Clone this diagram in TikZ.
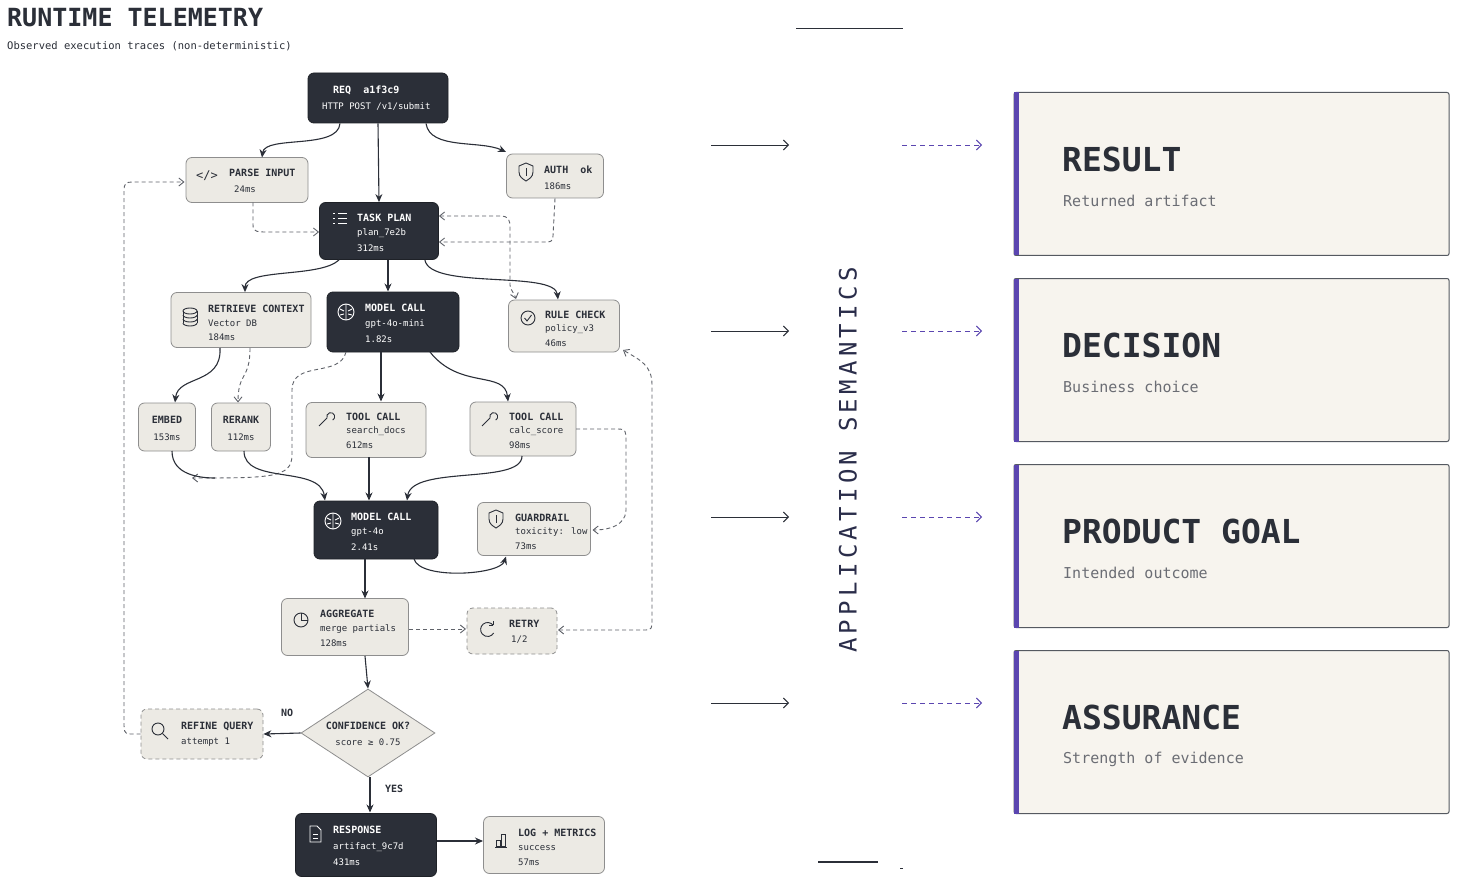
\documentclass[tikz,border=0pt]{standalone}
\usepackage{fontspec}
\setmainfont{DejaVu Sans Mono}
\newfontfamily\sfont{DejaVu Sans Mono}[LetterSpace=18]
\usetikzlibrary{shapes.geometric,arrows.meta}
\definecolor{ink}{HTML}{2B2F38}
\definecolor{lfill}{HTML}{ECEAE4}
\definecolor{lborder}{HTML}{8E8E8E}
\definecolor{card}{HTML}{F7F4EE}
\definecolor{purp}{HTML}{5B46B0}
\definecolor{navy}{HTML}{2A2D4A}
\begin{document}
\begin{tikzpicture}[x=1pt,y=-1pt,
  box/.style={rounded corners=6pt,inner sep=0pt},
  dbox/.style={box,fill=ink,draw=ink!70!black,line width=0.8pt},
  lbox/.style={box,fill=lfill,draw=lborder,line width=0.8pt},
  dashbox/.style={lbox,dashed,dash pattern=on 4pt off 3pt},
  t1/.style={anchor=west,inner sep=0pt,font=\fontsize{10}{10}\selectfont\bfseries},
  t2/.style={anchor=west,inner sep=0pt,font=\fontsize{9}{10}\selectfont},
  w/.style={text=white},
  k/.style={text=ink},
  ed/.style={draw=ink,line width=1.1pt,-{Stealth[length=8pt,width=7pt]}},
  dd/.style={draw=ink!75,line width=0.9pt,dash pattern=on 4pt off 3pt,-{Straight Barb[length=5pt,width=8pt]}},
  ic/.style={line width=0.9pt}
]
\useasboundingbox (0,0) rectangle (1458,885);
\fill[white] (0,0) rectangle (1458,885);

% header
\node[anchor=west,inner sep=0pt,text=ink,font=\fontsize{25}{26}\selectfont\bfseries] (title) at (7,18) {RUNTIME TELEMETRY};
\node[anchor=west,inner sep=0pt,text=ink,font=\fontsize{10.5}{12}\selectfont] (sub) at (7,46) {Observed execution traces (non-deterministic)};

% boxes
\node[dbox,minimum width=140pt,minimum height=50pt] (req) at (378,98) {};
\node[lbox,minimum width=122pt,minimum height=45pt] (parse) at (247,180) {};
\node[lbox,minimum width=97pt,minimum height=44pt] (auth) at (555,176) {};
\node[dbox,minimum width=119pt,minimum height=57pt] (task) at (379,231) {};
\node[lbox,minimum width=140pt,minimum height=55pt] (retr) at (241,320) {};
\node[dbox,minimum width=132pt,minimum height=60pt] (mini) at (393,322) {};
\node[lbox,minimum width=111pt,minimum height=52pt] (rule) at (564,326) {};
\node[lbox,minimum width=57pt,minimum height=48pt] (embed) at (167,427) {};
\node[lbox,minimum width=59pt,minimum height=48pt] (rerank) at (241,427) {};
\node[lbox,minimum width=120pt,minimum height=55pt] (tools) at (366,430) {};
\node[lbox,minimum width=106pt,minimum height=54pt] (toolc) at (523,429) {};
\node[dbox,minimum width=124pt,minimum height=58pt] (m4o) at (376,530) {};
\node[lbox,minimum width=113pt,minimum height=53pt] (guard) at (534,529) {};
\node[lbox,minimum width=127pt,minimum height=57pt] (agg) at (345,627) {};
\node[dashbox,minimum width=90pt,minimum height=46pt] (retry) at (512,631) {};
\node[diamond,fill=lfill,draw=lborder,line width=0.8pt,minimum width=134pt,minimum height=88pt,inner sep=0pt,aspect=1.5] (conf) at (368,733) {};
\node[dashbox,minimum width=122pt,minimum height=50pt] (refine) at (202,734) {};
\node[dbox,minimum width=141pt,minimum height=63pt] (resp) at (366,845) {};
\node[lbox,minimum width=121pt,minimum height=57pt] (log) at (544,845) {};

% texts
\node[t1,w] (reqa) at (333,90) {REQ\ \ a1f3c9};
\node[t2,w] (reqb) at (322,107) {HTTP POST /v1/submit};
\node[t1,k] (pa) at (229,173) {PARSE INPUT};
\node[t2,k] (pb) at (234,189) {24ms};
\node[t1,k] (aa) at (544,170) {AUTH\ \ ok};
\node[t2,k] (ab) at (544,186) {186ms};
\node[t1,w] (ta) at (357,218) {TASK PLAN};
\node[t2,w] (tb) at (357,233) {plan\_7e2b};
\node[t2,w] (tc) at (357,248) {312ms};
\node[t1,k] (ra) at (208,309) {RETRIEVE CONTEXT};
\node[t2,k] (rb) at (208,323) {Vector DB};
\node[t2,k] (rc) at (208,337) {184ms};
\node[t1,w] (ma) at (365,308) {MODEL CALL};
\node[t2,w] (mb) at (365,324) {gpt-4o-mini};
\node[t2,w] (mc) at (365,339) {1.82s};
\node[t1,k] (rua) at (545,315) {RULE CHECK};
\node[t2,k] (rub) at (545,329) {policy\_v3};
\node[t2,k] (ruc) at (545,343) {46ms};
\node[t1,k,anchor=center] (ea) at (167,420) {EMBED};
\node[t2,k,anchor=center] (eb) at (167,437) {153ms};
\node[t1,k,anchor=center] (rra) at (241,420) {RERANK};
\node[t2,k,anchor=center] (rrb) at (241,437) {112ms};
\node[t1,k] (tsa) at (346,417) {TOOL CALL};
\node[t2,k] (tsb) at (346,431) {search\_docs};
\node[t2,k] (tsc) at (346,445) {612ms};
\node[t1,k] (tca) at (509,417) {TOOL CALL};
\node[t2,k] (tcb) at (509,431) {calc\_score};
\node[t2,k] (tcc) at (509,445) {98ms};
\node[t1,w] (m4a) at (351,517) {MODEL CALL};
\node[t2,w] (m4b) at (351,532) {gpt-4o};
\node[t2,w] (m4c) at (351,547) {2.41s};
\node[t1,k] (ga) at (515,518) {GUARDRAIL};
\node[t2,k] (gb) at (515,532) {toxicity: low};
\node[t2,k] (gc) at (515,546) {73ms};
\node[t1,k] (aga) at (320,614) {AGGREGATE};
\node[t2,k] (agb) at (320,629) {merge partials};
\node[t2,k] (agc) at (320,643) {128ms};
\node[t1,k] (rea) at (509,624) {RETRY};
\node[t2,k] (reb) at (511,640) {1/2};
\node[t1,k,anchor=center] (ca) at (368,726) {CONFIDENCE OK?};
\node[t2,k,anchor=center] (cb) at (368,742) {score ≥ 0.75};
\node[t1,k] (rfa) at (181,726) {REFINE QUERY};
\node[t2,k] (rfb) at (181,742) {attempt 1};
\node[t1,w] (rsa) at (333,830) {RESPONSE};
\node[t2,w] (rsb) at (333,847) {artifact\_9c7d};
\node[t2,w] (rsc) at (333,862) {431ms};
\node[t1,k] (la) at (518,833) {LOG + METRICS};
\node[t2,k] (lb) at (518,848) {success};
\node[t2,k] (lc) at (518,862) {57ms};
\node[t1,k] (no) at (281,713) {NO};
\node[t1,k] (yes) at (385,789) {YES};

% icons
\node[inner sep=0pt,text=ink,font=\fontsize{12}{12}\selectfont] (icp) at (207,176) {</>};
\begin{scope}[ic,draw=ink]
 \draw (519,166) -- (526,163) -- (533,166) -- (533,172) .. controls (533,177) and (529,179) .. (526,181) .. controls (523,179) and (519,177) .. (519,172) -- cycle;
 \draw (526,168) -- (526,176);
 \draw (489,513) -- (496,510) -- (503,513) -- (503,519) .. controls (503,524) and (499,526) .. (496,528) .. controls (493,526) and (489,524) .. (489,519) -- cycle;
 \draw (496,515) -- (496,523);
 \draw (528,318) circle (7pt);
 \draw (524.5,318) -- (527,321) -- (531.5,315);
 \draw (190,311) ellipse (7pt and 3pt);
 \draw (183,311) -- (183,323) (197,311) -- (197,323);
 \draw (183,315) arc (180:360:7pt and 3pt) (183,319) arc (180:360:7pt and 3pt) (183,323) arc (180:360:7pt and 3pt);
 \draw (319,426) -- (327,418) (327,418) arc (200:-60:4pt);
 \draw (482,426) -- (490,418) (490,418) arc (200:-60:4pt);
 \draw (301,613) arc (90:-270:7pt);
 \draw (301,613) -- (301,620) -- (308,620);
 \draw (493,625) arc (40:330:7pt);
 \draw (493,625) -- (493,621) (493,625) -- (489,625);
 \draw (158,729) circle (6pt);
 \draw (162.5,733.5) -- (168,739);
 \draw (496,846) rectangle (500,840) (501,846) rectangle (505,834) (495,847) -- (507,847);
\end{scope}
\begin{scope}[ic,draw=white]
 \draw (333,213) -- (335,213) (333,218) -- (335,218) (333,223) -- (335,223);
 \draw (338,213) -- (347,213) (338,218) -- (347,218) (338,223) -- (347,223);
 \draw (346,312) circle (8pt) (346,304) -- (346,320) (340,309) -- (344,311) (352,309) -- (348,311) (340,315) -- (344,314) (352,315) -- (348,314);
 \draw (333,521) circle (8pt) (333,513) -- (333,529) (327,518) -- (331,520) (339,518) -- (335,520) (327,524) -- (331,523) (339,524) -- (335,523);
 \draw (310,826) -- (317,826) -- (321,830) -- (321,842) -- (310,842) -- cycle;
 \draw (313,834) -- (318,834) (313,838) -- (318,838);
\end{scope}

% edges
\draw[ed] (340,123.5) .. controls (338,150) and (265,135) .. (262,157.5);
\draw[ed] (req.south) -- (task.north);
\draw[ed] (426,123.5) .. controls (430,150) and (480,140) .. (506,152);
\draw[dd] (253,202.5) -- (253,225) .. controls (253,232) and (258,232) .. (265,232) -- (task.west |- 0,232);
\draw[dd] (auth.south) -- (553,236) .. controls (553,242) and (550,242) .. (545,242) -- (task.east |- 0,242);
\draw[dd,{Straight Barb[length=5pt,width=8pt]}-{Straight Barb[length=5pt,width=8pt]}] (task.east |- 0,216) -- (500,216) .. controls (509,216) and (510,220) .. (510,228) -- (510,285) .. controls (510,290) and (514,292) .. (516,299);
\draw[ed] ([xshift=20pt]task.south west) .. controls (320,278) and (245,268) .. ([xshift=4pt]retr.north);
\draw[ed] (388,260.5) -- (388,291.5);
\draw[ed] ([xshift=-14pt]task.south east) .. controls (430,290) and (555,270) .. (558,299.5);
\draw[ed] (220,348) .. controls (222,385) and (178,375) .. (175,402.5);
\draw[dd] (250,348) .. controls (250,380) and (238,372) .. (238,402.5);
\draw[dd] (346,352) .. controls (340,378) and (292,360) .. (292,390) -- (292,455) .. controls (292,478) and (270,478) .. (192,478);
\draw[draw=ink,line width=1.1pt] (172,451) .. controls (172,475) and (200,478) .. (215,478);
\draw[ed] (381,352) -- (381,401.5);
\draw[ed] (430,352) .. controls (460,390) and (505,370) .. (508,401.5);
\draw[ed] (244,451) .. controls (244,485) and (320,465) .. (325,500.5);
\draw[ed] (369,457) -- (369,500.5);
\draw[ed] (522,456) .. controls (522,485) and (412,465) .. (407,500.5);
\draw[dd] (576,429) -- (618,429) .. controls (626,429) and (626,432) .. (626,440) -- (626,510) .. controls (626,518) and (620,530) .. (592.5,530);
\draw[ed] (414,559) .. controls (420,580) and (500,575) .. (506,556.5);
\draw[ed] (365,559) -- (365,598.5);
\draw[dd] (409,629) -- (466,629);
\draw[dd,{Straight Barb[length=5pt,width=8pt]}-{Straight Barb[length=5pt,width=8pt]}] (558,630) -- (645,630) .. controls (652,630) and (652,628) .. (652,620) -- (652,385) .. controls (652,365) and (640,360) .. (623,350);
\draw[ed] (365,656) -- (conf.north);
\draw[ed] (conf.west) -- (refine.east);
\draw[dd] (refine.west) -- (130,734) .. controls (124,734) and (124,730) .. (124,724) -- (124,190) .. controls (124,184) and (126,182) .. (132,182) -- (184.5,182);
\draw[ed] (370,777) -- (370,812.5);
\draw[ed] (437,841) -- (483,841);

% middle
\draw[ink,line width=0.9pt] (796,28) -- (903,28);
\draw[ink,line width=2.5pt] (818,862) -- (878,862);
\draw[ink,line width=0.8pt] (900,868) -- (903,868);
\node[rotate=90,inner sep=0pt,text=navy,font=\sfont\fontsize{24}{24}\selectfont] (sem) at (848,460) {APPLICATION SEMANTICS};

% right side
\foreach \yy/\nm/\tt/\st in {145/res/RESULT/Returned artifact,331/dec/DECISION/Business choice,517/goal/PRODUCT GOAL/Intended outcome,703/ass/ASSURANCE/Strength of evidence}{
  \coordinate (\nm a) at (711,\yy);
  \coordinate (\nm b) at (789,\yy);
  \coordinate (\nm c) at (902,\yy);
  \coordinate (\nm d) at (982,\yy);
  \draw[ink,line width=0.9pt,-{Straight Barb[length=5pt,width=10pt]}] (\nm a) -- (\nm b);
  \draw[purp,line width=0.9pt,dash pattern=on 5pt off 4pt,-{Straight Barb[length=5pt,width=10pt]}] (\nm c) -- (\nm d);
  \node[draw=ink!80,fill=card,line width=1pt,rounded corners=2pt,minimum width=435pt,minimum height=163pt,inner sep=0pt] (\nm) at (1231.5,\yy+29) {};
  \fill[purp] ([xshift=0.5pt,yshift=-0.5pt]\nm.north west) rectangle ([xshift=5.5pt,yshift=0.5pt]\nm.south west);
  \node[anchor=west,inner sep=0pt,text=ink,font=\fontsize{33}{33}\selectfont\bfseries] (\nm t) at (1062,\yy+14) {\tt};
  \node[anchor=west,inner sep=0pt,text=ink!70,font=\fontsize{15}{16}\selectfont] (\nm s) at (1063,\yy+56) {\st};
}
\end{tikzpicture}
\end{document}
